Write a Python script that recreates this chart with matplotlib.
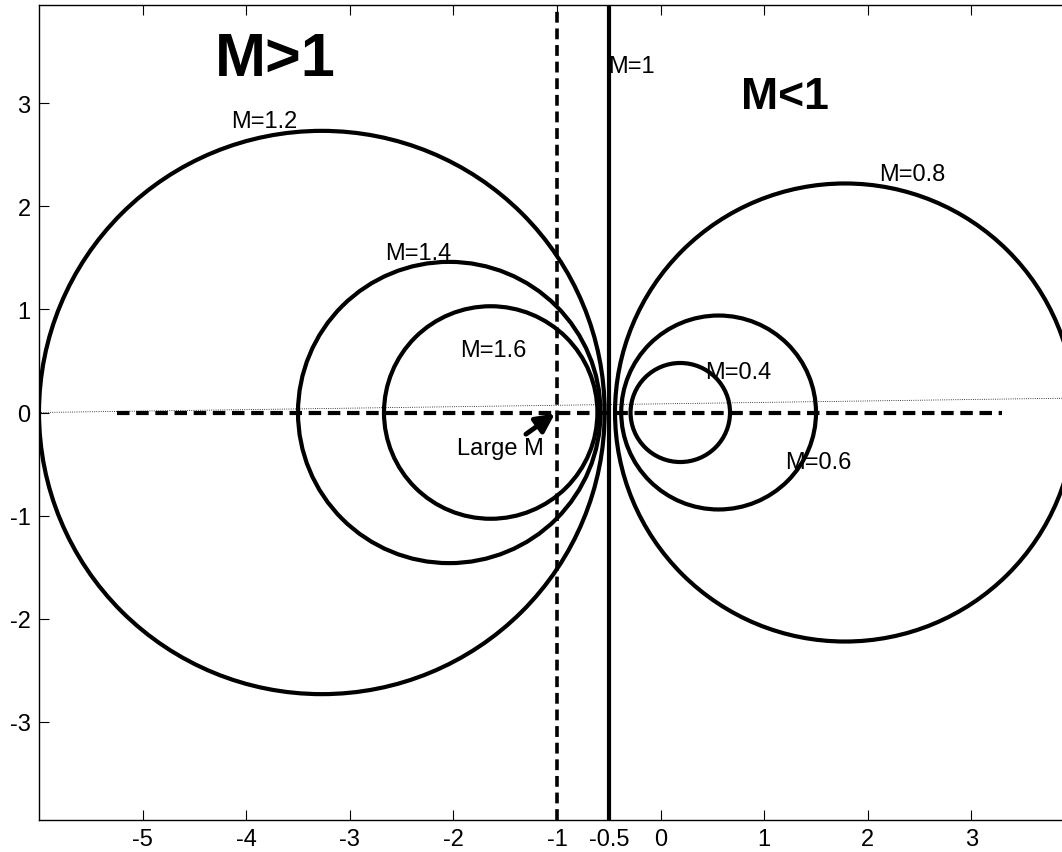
import matplotlib.pyplot as plt
from matplotlib.patches import Circle

# M-circle values
m_labels = ["M=1.2", "M=1.4", "M=1.6", "M=0.8", "M=0.6", "M=0.4"]
centers = [-3.27, -2.04, -1.64, 1.78, 0.56, 0.19]
radii = [2.73, 1.46, 1.03, 2.22, 0.94, 0.48]
label_x = [-3.83, -2.34, -1.61, 2.43, 1.52, 0.75]
label_y = [2.83, 1.55, 0.61, 2.31, -0.48, 0.39]

xticks = [-5, -4, -3, -2, -1, -0.5, 0, 1, 2, 3]
xtick_labels = ["-5", "-4", "-3", "-2", "-1", "-0.5", "0", "1", "2", "3"]
yticks = [-3, -2, -1, 0, 1, 2, 3]

# reference lines
real_axis_x = [-5.25, 3.3]
dotted_x = [-6, 4]
dotted_y = [0, 0.14]
large_m_vline = -1
unity_vline = -0.5


def main():
    plt.rcParams['font.family'] = ['Liberation Sans', 'DejaVu Sans']
    plt.rcParams['axes.unicode_minus'] = False
    fig = plt.figure(figsize=(10.62, 8.53), dpi=100)
    ax = fig.add_axes([39 / 1062, 32 / 853, 1036 / 1062, 815 / 853])

    for c, r in zip(centers, radii):
        ax.add_patch(Circle((c, 0), r, fill=False, color='black', lw=3.0))

    for lab, lx, ly in zip(m_labels, label_x, label_y):
        ax.text(lx, ly, lab, fontsize=17, ha='center', va='center')

    ax.plot(real_axis_x, [0, 0], color='black', lw=3, ls=(0, (3, 1.6)))
    ax.plot(dotted_x, dotted_y, color='black', lw=0.6, ls=':')
    ax.axvline(large_m_vline, color='black', lw=2.6, ls=(0, (3, 1.6)))
    ax.axvline(unity_vline, color='black', lw=3)

    ax.text(-0.51, 3.36, "M=1", fontsize=17, ha='left', va='center')
    ax.text(-3.72, 3.42, "M>1", fontsize=44, fontweight='bold',
            ha='center', va='center')
    ax.text(1.2, 3.06, "M<1", fontsize=32, fontweight='bold',
            ha='center', va='center')

    ax.text(-1.55, -0.34, "Large M", fontsize=17, ha='center', va='center')
    ax.annotate("", xy=(-1.02, -0.01), xytext=(-1.3, -0.21),
                arrowprops=dict(arrowstyle='-|>', color='black', lw=3.5,
                                mutation_scale=28, shrinkA=0, shrinkB=0))

    ax.set_xlim(-6, 4)
    ax.set_ylim(-3.95, 3.95)
    ax.set_xticks(xticks)
    ax.set_xticklabels(xtick_labels)
    ax.set_yticks(yticks)
    ax.tick_params(direction='in', length=7, labelsize=17, top=True,
                   right=True, pad=6)
    for s in ax.spines.values():
        s.set_linewidth(1.0)

    fig.savefig("out.png", dpi=100)


if __name__ == "__main__":
    main()
